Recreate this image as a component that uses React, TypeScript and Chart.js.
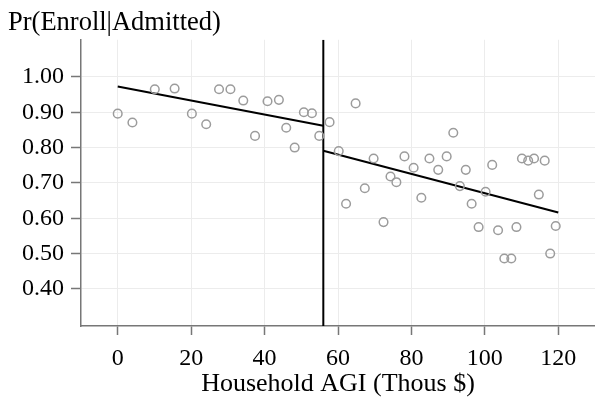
import React, { useEffect, useRef } from "react";
import { Chart, registerables } from "chart.js";

Chart.register(...registerables);

// Binned household AGI (thousands of $) and enrollment probability among admitted
const agiBins: number[] = [
  0, 4, 10.1, 15.5, 20.2, 24.1, 27.6, 30.7, 34.2, 37.4, 40.8, 43.9, 45.9, 48.2, 50.7, 52.9, 54.9,
  57.7, 60.2, 62.2, 64.8, 67.3, 69.7, 72.4, 74.3, 75.9, 78.1, 80.6, 82.7, 84.9, 87.3, 89.6, 91.4,
  93.2, 94.8, 96.4, 98.3, 100.2, 102.0, 103.6, 105.3, 107.2, 108.6, 110.1, 111.8, 113.4, 114.7,
  116.3, 117.8, 119.3,
];
const enrollRate: number[] = [
  0.896, 0.871, 0.965, 0.967, 0.896, 0.866, 0.965, 0.965, 0.933, 0.833, 0.931, 0.935, 0.856, 0.8,
  0.9, 0.897, 0.833,
  0.872, 0.79, 0.641, 0.925, 0.685, 0.769, 0.589, 0.718, 0.702, 0.775, 0.743, 0.658, 0.769, 0.737,
  0.775, 0.842, 0.691, 0.737, 0.641, 0.575, 0.675, 0.751, 0.566, 0.486, 0.486, 0.575, 0.769,
  0.763, 0.769, 0.667, 0.763, 0.5, 0.578,
];

// Fitted lines on each side of the cutoff
const leftFitX: number[] = [0, 56];
const leftFitY: number[] = [0.973, 0.862];
const rightFitX: number[] = [56, 120];
const rightFitY: number[] = [0.791, 0.616];

// Cutoff
const cutoffX = 56;

// Axes
const xTicks: number[] = [0, 20, 40, 60, 80, 100, 120];
const yTicks: number[] = [0.4, 0.5, 0.6, 0.7, 0.8, 0.9, 1.0];
const xMin = -10;
const xMax = 130;
const yMin = 0.295;
const yMax = 1.105;

const yTitle = "Pr(Enroll|Admitted)";
const xTitle = "Household AGI (Thous $)";

const FONT = "'Liberation Serif', 'Times New Roman', serif";

export default function App() {
  const ref = useRef<HTMLCanvasElement | null>(null);

  useEffect(() => {
    document.body.style.margin = "0";
    const canvas = ref.current;
    if (!canvas) return;

    const pts = agiBins.map((x, i) => ({ x, y: enrollRate[i] }));
    const leftLine = leftFitX.map((x, i) => ({ x, y: leftFitY[i] }));
    const rightLine = rightFitX.map((x, i) => ({ x, y: rightFitY[i] }));
    const cutLine = [
      { x: cutoffX, y: yMin },
      { x: cutoffX, y: yMax },
    ];

    const lineDs = (data: any[]) => ({
      data,
      showLine: true,
      borderColor: "#000",
      borderWidth: 2,
      pointRadius: 0,
      pointHoverRadius: 0,
      fill: false,
    });

    const chart = new Chart(canvas, {
      type: "scatter",
      data: {
        datasets: [
          {
            data: pts,
            showLine: false,
            pointStyle: "circle",
            pointRadius: 4.3,
            pointBorderColor: "#9c9c9c",
            pointBackgroundColor: "rgba(0,0,0,0)",
            pointBorderWidth: 1.5,
          } as any,
          lineDs(leftLine),
          lineDs(rightLine),
          lineDs(cutLine),
        ],
      },
      options: {
        animation: false,
        responsive: false,
        devicePixelRatio: 1,
        layout: { autoPadding: false, padding: { left: 8, right: 0, top: 0, bottom: 0 } },
        plugins: {
          legend: { display: false },
          tooltip: { enabled: false },
          title: {
            display: true,
            text: yTitle,
            align: "start",
            color: "#000",
            font: { family: FONT, size: 26.5, weight: "normal" },
            padding: { top: 7, bottom: 1 },
          },
        },
        scales: {
          x: {
            type: "linear",
            min: xMin,
            max: xMax,
            afterBuildTicks: (s: any) => {
              s.ticks = xTicks.map((v) => ({ value: v }));
            },
            afterFit: (s: any) => {
              s.height = 80;
              s.paddingRight = 0;
              s.paddingLeft = 0;
            },
            ticks: {
              color: "#000",
              font: { family: FONT, size: 24 },
              padding: 9,
              maxRotation: 0,
              callback: (v: any) => String(v),
            },
            grid: {
              color: "#ececec",
              lineWidth: 1,
              tickColor: "#777",
              tickLength: 9,
              tickWidth: 1.5,
            },
            border: { color: "#777", width: 1.5 },
            title: {
              display: true,
              text: xTitle,
              color: "#000",
              font: { family: FONT, size: 26 },
              padding: { top: 0, bottom: 6 },
            },
          },
          y: {
            type: "linear",
            min: yMin,
            max: yMax,
            afterBuildTicks: (s: any) => {
              s.ticks = yTicks.map((v) => ({ value: v }));
            },
            afterFit: (s: any) => {
              s.width = 73;
              s.paddingTop = 0;
              s.paddingBottom = 0;
            },
            ticks: {
              color: "#000",
              font: { family: FONT, size: 24 },
              padding: 7,
              callback: (v: any) => Number(v).toFixed(2),
            },
            grid: {
              color: "#ececec",
              lineWidth: 1,
              tickColor: "#777",
              tickLength: 10,
              tickWidth: 1.5,
            },
            border: { color: "#777", width: 1.5 },
          },
        },
      },
    });

    return () => chart.destroy();
  }, []);

  return (
    <div style={{ width: 595, height: 406 }}>
      <canvas ref={ref} width={595} height={406} />
    </div>
  );
}
